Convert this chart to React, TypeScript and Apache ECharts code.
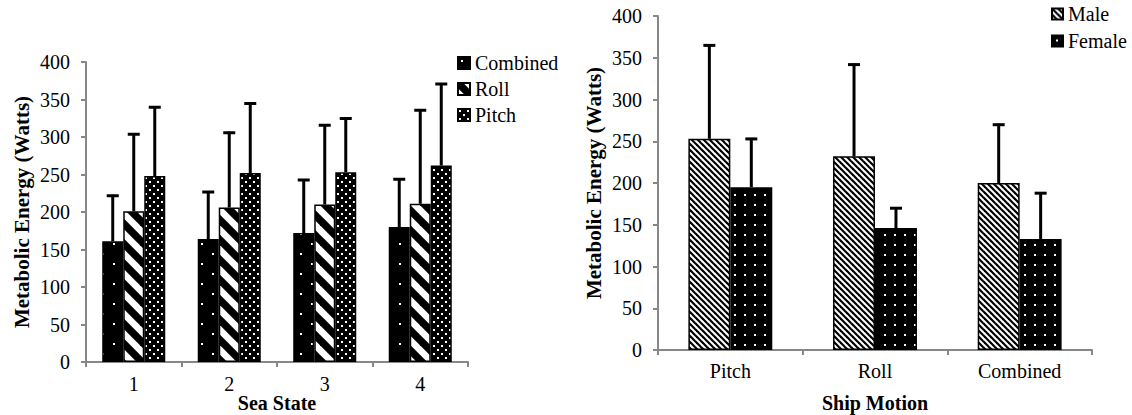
import React, { useEffect, useRef } from "react";
import * as echarts from "echarts";

// ---- Left chart: Sea State ----
const seaStates = ["1", "2", "3", "4"];
const combinedMean = [161, 164, 172, 180];
const combinedSD = [62, 64, 72, 65];
const rollMean = [201, 206, 210, 211];
const rollSD = [104, 101, 107, 126];
const pitchMean = [248, 252, 253, 262];
const pitchSD = [93, 94, 73, 110];

// ---- Right chart: Ship Motion ----
const motions = ["Pitch", "Roll", "Combined"];
const maleMean = [253, 232, 200];
const maleSD = [113, 111, 71];
const femaleMean = [195, 146, 133];
const femaleSD = [59, 25, 56];

const yTicks = { min: 0, max: 400, interval: 50 };

const FONT = "'Liberation Serif', 'Times New Roman', serif";
const AXIS_GREY = "#878787";

function makeCanvas(w: number, h: number, draw: (c: CanvasRenderingContext2D) => void) {
  const cv = document.createElement("canvas");
  cv.width = w;
  cv.height = h;
  const ctx = cv.getContext("2d")!;
  draw(ctx);
  return cv;
}

function patterns() {
  const sparseDots = makeCanvas(22, 20, (c) => {
    c.fillStyle = "#000";
    c.fillRect(0, 0, 22, 20);
    c.fillStyle = "#fff";
    c.fillRect(3, 3, 2, 2);
    c.fillRect(14, 13, 2, 2);
  });
  const denseDots = makeCanvas(8, 8, (c) => {
    c.fillStyle = "#000";
    c.fillRect(0, 0, 8, 8);
    c.fillStyle = "#fff";
    c.fillRect(1, 1, 2, 2);
    c.fillRect(5, 5, 2, 2);
  });
  const gridDots = makeCanvas(10, 10, (c) => {
    c.fillStyle = "#000";
    c.fillRect(0, 0, 10, 10);
    c.fillStyle = "#fff";
    c.fillRect(4, 4, 2, 2);
  });
  const thickStripes = makeCanvas(20, 20, (c) => {
    c.fillStyle = "#fff";
    c.fillRect(0, 0, 20, 20);
    c.strokeStyle = "#000";
    c.lineWidth = 7.5;
    for (const k of [-20, 0, 20]) {
      c.beginPath();
      c.moveTo(-5, -5 + k);
      c.lineTo(25, 25 + k);
      c.stroke();
    }
  });
  const thinStripes = makeCanvas(6, 6, (c) => {
    c.fillStyle = "#fff";
    c.fillRect(0, 0, 6, 6);
    c.strokeStyle = "#000";
    c.lineWidth = 2.2;
    for (const k of [-6, 0, 6]) {
      c.beginPath();
      c.moveTo(-2, -2 + k);
      c.lineTo(8, 8 + k);
      c.stroke();
    }
  });
  return { sparseDots, denseDots, gridDots, thickStripes, thinStripes };
}

function errorSeries(
  name: string,
  means: number[],
  sds: number[],
  idx: number,
  n: number,
  gap: number,
  axisIndex: number
) {
  return {
    type: "custom",
    name,
    xAxisIndex: axisIndex,
    yAxisIndex: axisIndex,
    z: 5,
    silent: true,
    data: means.map((m, i) => [i, m, m + sds[i]]),
    encode: { x: 0, y: [1, 2] },
    renderItem: (params: any, api: any) => {
      const x = api.value(0);
      const p0 = api.coord([x, api.value(1)]);
      const p1 = api.coord([x, api.value(2)]);
      const band = api.size([1, 0])[0];
      const barW = (band * (1 - gap)) / n;
      const cx = p0[0] + (idx - (n - 1) / 2) * barW;
      const st = { stroke: "#000", lineWidth: 3 };
      return {
        type: "group",
        children: [
          { type: "line", shape: { x1: cx, y1: p0[1], x2: cx, y2: p1[1] }, style: st },
          { type: "line", shape: { x1: cx - 6, y1: p1[1] + 1, x2: cx + 6, y2: p1[1] + 1 }, style: st },
        ],
      };
    },
  };
}

export default function App() {
  const ref = useRef<HTMLDivElement>(null);
  useEffect(() => {
    document.body.style.margin = "0";
    const chart = echarts.init(ref.current!, undefined, { renderer: "svg" });
    const p = patterns();
    const pat = (cv: HTMLCanvasElement) => ({ image: cv, repeat: "repeat" } as any);

    const axisLine = { show: true, lineStyle: { color: AXIS_GREY, width: 2 } };
    const axisTick = { show: true, length: 5, lineStyle: { color: AXIS_GREY, width: 2 } };
    const labelStyle = { fontFamily: FONT, fontSize: 20, color: "#000" };
    const nameStyle = { fontFamily: FONT, fontSize: 21, fontWeight: "bold", color: "#000" };

    const leftGap = 0.34;
    const rightGap = 0.42;

    const bar = (name: string, data: number[], cv: HTMLCanvasElement, axisIndex: number, gap: number) => ({
      type: "bar",
      name,
      data,
      xAxisIndex: axisIndex,
      yAxisIndex: axisIndex,
      barGap: "0%",
      barCategoryGap: gap * 100 + "%",
      itemStyle: { color: pat(cv), borderColor: "#000", borderWidth: 1.5 },
      emphasis: { disabled: true },
    });

    const legendText = { fontFamily: FONT, fontSize: 20, color: "#000" };

    chart.setOption({
      animation: false,
      textStyle: { fontFamily: FONT },
      grid: [
        { left: 86, top: 62, width: 382, height: 300, outerBoundsMode: "none", containLabel: false },
        { left: 658, top: 16, width: 434, height: 334, outerBoundsMode: "none", containLabel: false },
      ],
      legend: [
        {
          data: ["Combined", "Roll", "Pitch"],
          orient: "vertical",
          left: 457,
          top: 53,
          icon: "rect",
          itemWidth: 12,
          itemHeight: 12,
          itemGap: 6,
          padding: 0,
          textStyle: legendText,
          selectedMode: false,
        },
        {
          data: ["Male", "Female"],
          orient: "vertical",
          left: 1051,
          top: 4,
          icon: "rect",
          itemWidth: 11,
          itemHeight: 11,
          itemGap: 7,
          padding: 0,
          textStyle: legendText,
          selectedMode: false,
        },
      ],
      xAxis: [
        {
          type: "category",
          gridIndex: 0,
          data: seaStates,
          name: "Sea State",
          nameLocation: "middle",
          nameGap: 31,
          nameMoveOverlap: false,
          nameTextStyle: { ...nameStyle, fontSize: 20 },
          axisLine,
          axisTick,
          axisLabel: { ...labelStyle, margin: 12 },
        },
        {
          type: "category",
          gridIndex: 1,
          data: motions,
          name: "Ship Motion",
          nameLocation: "middle",
          nameGap: 43,
          nameMoveOverlap: false,
          nameTextStyle: { ...nameStyle, fontSize: 20 },
          axisLine,
          axisTick,
          axisLabel: { ...labelStyle, margin: 11 },
        },
      ],
      yAxis: [0, 1].map((g) => ({
        type: "value",
        gridIndex: g,
        ...yTicks,
        name: "Metabolic Energy (Watts)",
        nameLocation: "middle",
        nameGap: 54,
        nameMoveOverlap: false,
        nameTextStyle: nameStyle,
        axisLine,
        axisTick,
        splitLine: { show: false },
        axisLabel: { ...labelStyle, margin: 16 },
      })),
      series: [
        bar("Combined", combinedMean, p.sparseDots, 0, leftGap),
        bar("Roll", rollMean, p.thickStripes, 0, leftGap),
        bar("Pitch", pitchMean, p.denseDots, 0, leftGap),
        errorSeries("errC", combinedMean, combinedSD, 0, 3, leftGap, 0),
        errorSeries("errR", rollMean, rollSD, 1, 3, leftGap, 0),
        errorSeries("errP", pitchMean, pitchSD, 2, 3, leftGap, 0),
        bar("Male", maleMean, p.thinStripes, 1, rightGap),
        bar("Female", femaleMean, p.gridDots, 1, rightGap),
        errorSeries("errM", maleMean, maleSD, 0, 2, rightGap, 1),
        errorSeries("errF", femaleMean, femaleSD, 1, 2, rightGap, 1),
      ],
    });
    return () => chart.dispose();
  }, []);
  return <div ref={ref} style={{ width: 1132, height: 415 }} />;
}
